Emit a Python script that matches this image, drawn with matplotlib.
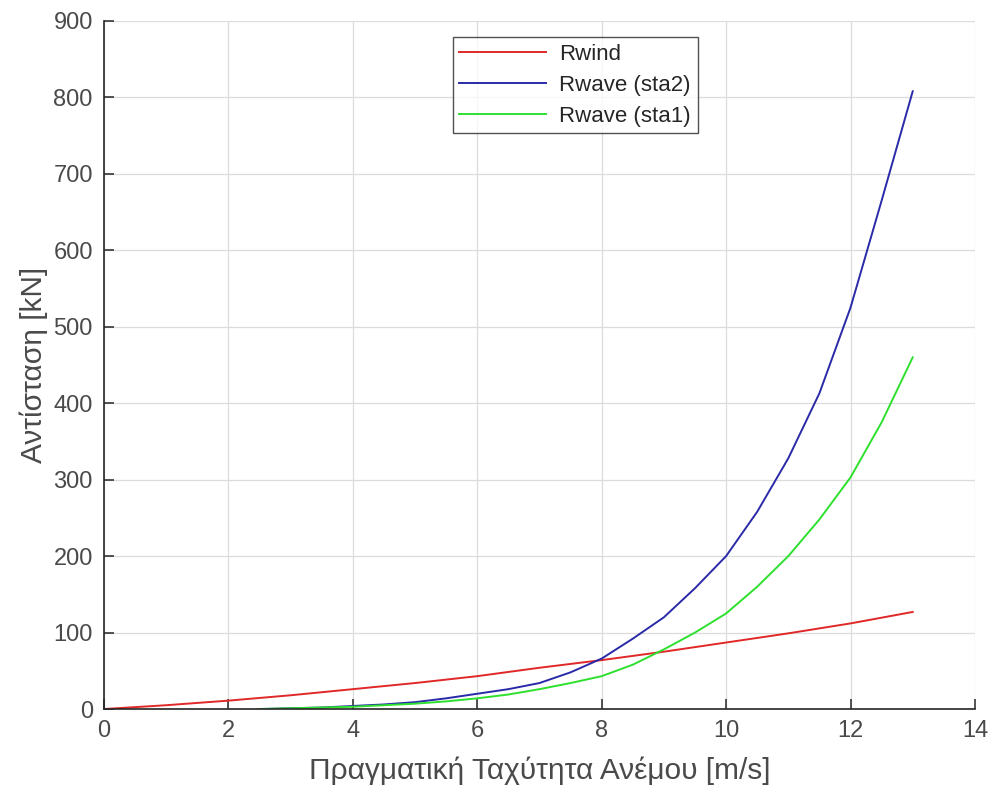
import matplotlib
matplotlib.use("Agg")
import matplotlib.pyplot as plt

plt.rcParams['font.family'] = ['Liberation Sans', 'DejaVu Sans']

# Wind speed samples [m/s]
wind_speed = [0, 1, 2, 3, 4, 5, 6, 7, 8, 9, 10, 11, 12, 13]
r_wind = [0, 5, 11, 18, 26, 34, 43, 54, 64, 75, 87, 99, 112, 127]

wave_speed = [2.5, 3, 3.5, 4, 4.5, 5, 5.5, 6, 6.5, 7, 7.5, 8, 8.5, 9, 9.5,
              10, 10.5, 11, 11.5, 12, 12.5, 13]
r_wave_sta2 = [0, 1, 2, 4, 6, 9, 14, 20, 26, 34, 48, 66, 92, 120, 158,
               200, 258, 328, 413, 525, 665, 808]
r_wave_sta1 = [0, 1, 2, 3, 5, 7, 10, 14, 19, 26, 34, 43, 58, 78, 100,
               125, 160, 200, 248, 303, 375, 460]

x_ticks = [0, 2, 4, 6, 8, 10, 12, 14]
y_ticks = [0, 100, 200, 300, 400, 500, 600, 700, 800, 900]

fig = plt.figure(figsize=(9.92, 7.94), dpi=100)
ax = fig.add_axes([0.1048, 0.107, 0.878, 0.8666])

ax.plot(wind_speed, r_wind, color='#e02828', lw=1.4, label='Rwind')
ax.plot(wave_speed, r_wave_sta2, color='#2a2aa8', lw=1.4, label='Rwave (sta2)')
ax.plot(wave_speed, r_wave_sta1, color='#2ee02e', lw=1.4, label='Rwave (sta1)')

ax.set_xlim(0, 14)
ax.set_ylim(0, 900)
ax.set_xticks(x_ticks)
ax.set_yticks(y_ticks)
ax.grid(True, color='#dcdcdc', lw=0.9)
ax.set_axisbelow(True)

for side in ('top', 'right'):
    ax.spines[side].set_visible(False)
for side in ('left', 'bottom'):
    ax.spines[side].set_color('#262626')
    ax.spines[side].set_linewidth(1.2)

ax.tick_params(direction='in', length=7, width=1.1, colors='#262626',
               labelsize=17, labelcolor='#4a4a4a', pad=8)

ax.set_xlabel('Πραγματική Ταχύτητα Ανέμου [m/s]', fontsize=21.5, color='#4a4a4a', labelpad=10)
ax.set_ylabel('Αντίσταση [kN]', fontsize=21.5, color='#4a4a4a', labelpad=4)

leg = ax.legend(loc='upper left', bbox_to_anchor=(0.4005, 0.9767), fontsize=16,
                frameon=True, fancybox=False, edgecolor='#262626',
                handlelength=3.9, borderpad=0.3, labelspacing=0.45,
                handletextpad=0.6, borderaxespad=0)
leg.get_frame().set_linewidth(1.0)
for t in leg.get_texts():
    t.set_color('#262626')

fig.savefig('out.png', dpi=100, facecolor='white')
